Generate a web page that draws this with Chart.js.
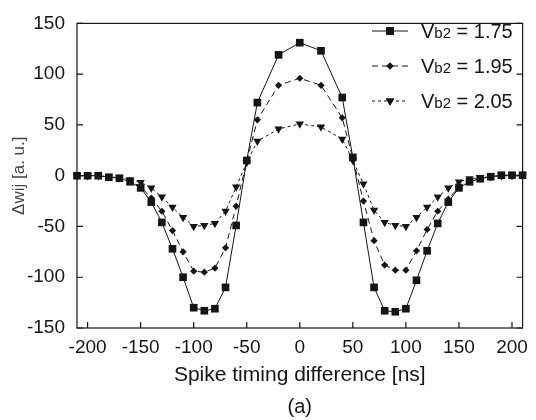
<!DOCTYPE html>
<html>
<head>
<meta charset="utf-8">
<script src="https://cdn.jsdelivr.net/npm/chart.js@4/dist/chart.umd.min.js"></script>
<style>
  html, body { margin: 0; padding: 0; background: #fff; }
  #wrap { width: 536px; height: 420px; }
</style>
</head>
<body>
<div id="wrap"><canvas id="chartStdp"></canvas></div>
<script>
// spike timing difference [ns]
const timing = [-210, -200, -190, -180, -170, -160, -150, -140, -130, -120, -110, -100, -90, -80, -70, -60, -50,
                -40, -20, 0, 20, 40,
                50, 60, 70, 80, 90, 100, 110, 120, 130, 140, 150, 160, 170, 180, 190, 200, 210];

// delta w_ij [a. u.] for each Vb2
const dw175 = [0, 0, 0, -1.5, -2.5, -6, -12, -26, -46, -72, -100, -130, -133, -131, -110, -49, 15,
               72, 119, 131, 123, 77,
               18, -46, -110, -133, -134, -131, -103, -74, -47, -26, -12, -6, -3, -1, 0.5, 0.5, 0.5];
const dw195 = [0, 0, 0, -1.5, -2.5, -5, -11, -22, -35, -54, -75, -94, -95, -91, -71, -30, 14,
               55, 89, 96, 89, 57,
               17, -25, -64, -88, -93, -93, -74, -53, -35, -23, -11, -5, -3, -1, 0, 0, 0];
const dw205 = [0, 0, 0, -1, -2, -4, -6.5, -12, -21, -31, -41, -50, -49, -47, -35, -11, 13,
               34, 46, 51, 48, 36,
               15, -8, -34, -46, -49, -50, -41, -31, -21, -12, -6, -3, -2, -1, 0, 0, 0];

const seriesLabels = ['1.75', '1.95', '2.05'];
const xTicks = [-200, -150, -100, -50, 0, 50, 100, 150, 200];
const yTicks = [-150, -100, -50, 0, 50, 100, 150];

const FONT = "'Liberation Sans', Arial, sans-serif";
const INK = '#151515';

function toPoints(ys) {
    return timing.map((t, i) => ({ x: t, y: ys[i] }));
}

// box around the plot with inward ticks
const framePlugin = {
    id: 'framePlugin',
    beforeDatasetsDraw(chart) {
        const { ctx, chartArea: a, scales } = chart;
        ctx.save();
        ctx.strokeStyle = INK;
        ctx.lineWidth = 1.2;
        ctx.strokeRect(a.left, a.top, a.right - a.left, a.bottom - a.top);
        ctx.beginPath();
        xTicks.forEach(v => {
            const x = scales.x.getPixelForValue(v);
            ctx.moveTo(x, a.bottom);
            ctx.lineTo(x, a.bottom - 6);
        });
        yTicks.forEach(v => {
            const y = scales.y.getPixelForValue(v);
            ctx.moveTo(a.left, y);
            ctx.lineTo(a.left + 6, y);
            ctx.moveTo(a.right, y);
            ctx.lineTo(a.right - 6, y);
        });
        ctx.stroke();
        ctx.restore();
    }
};

// legend: line + marker + "Vb2 = x" with small b2
const legendPlugin = {
    id: 'legendPlugin',
    afterDraw(chart) {
        const ctx = chart.ctx;
        ctx.save();
        chart.data.datasets.forEach((ds, i) => {
            const y = 31 + i * 35;
            ctx.strokeStyle = INK;
            ctx.lineWidth = 1;
            ctx.setLineDash(ds.borderDash || []);
            ctx.beginPath();
            ctx.moveTo(372, y);
            ctx.lineTo(408, y);
            ctx.stroke();
            ctx.setLineDash([]);
            ctx.fillStyle = INK;
            Chart.helpers.drawPoint(ctx, {
                pointStyle: ds.pointStyle,
                radius: ds.pointRadius,
                rotation: ds.pointRotation || 0,
                borderWidth: 0
            }, 390, y);
            ctx.fill();

            ctx.textBaseline = 'alphabetic';
            ctx.textAlign = 'left';
            let x = 421;
            const base = y + 7;
            ctx.font = '20px ' + FONT;
            ctx.fillText('V', x, base);
            x += ctx.measureText('V').width;
            ctx.font = '15px ' + FONT;
            ctx.fillText('b2', x, base);
            x += ctx.measureText('b2').width;
            ctx.font = '20px ' + FONT;
            ctx.fillText(' = ' + seriesLabels[i], x, base);
        });
        ctx.font = '20px ' + FONT;
        ctx.textAlign = 'center';
        ctx.textBaseline = 'middle';
        ctx.fillText('(a)', (chart.chartArea.left + chart.chartArea.right) / 2, 407);
        ctx.restore();
    }
};

document.addEventListener('DOMContentLoaded', () => {
    const ctx = document.getElementById('chartStdp').getContext('2d');
    new Chart(ctx, {
        type: 'line',
        data: {
            datasets: [{
                label: 'Vb2 = ' + seriesLabels[0],
                data: toPoints(dw175),
                borderColor: INK,
                backgroundColor: INK,
                borderWidth: 1,
                pointStyle: 'rect',
                pointRadius: 5.4,
                pointBorderWidth: 0,
                clip: false
            }, {
                label: 'Vb2 = ' + seriesLabels[1],
                data: toPoints(dw195),
                borderColor: INK,
                backgroundColor: INK,
                borderWidth: 1,
                borderDash: [6, 4],
                pointStyle: 'rectRot',
                pointRadius: 3.6,
                pointBorderWidth: 0,
                clip: false
            }, {
                label: 'Vb2 = ' + seriesLabels[2],
                data: toPoints(dw205),
                borderColor: INK,
                backgroundColor: INK,
                borderWidth: 1,
                borderDash: [3, 3],
                pointStyle: 'triangle',
                pointRotation: 180,
                pointRadius: 4.8,
                pointBorderWidth: 0,
                clip: false
            }]
        },
        options: {
            responsive: true,
            maintainAspectRatio: false,
            animation: false,
            layout: { padding: { top: 16, right: 7, left: 0, bottom: 0 } },
            plugins: {
                legend: { display: false },
                tooltip: { enabled: false }
            },
            scales: {
                x: {
                    type: 'linear',
                    min: -210,
                    max: 210,
                    afterBuildTicks: s => { s.ticks = xTicks.map(v => ({ value: v })); },
                    afterFit: s => { s.height = 92; },
                    grid: { display: false, drawTicks: false },
                    border: { display: false },
                    ticks: {
                        color: INK,
                        font: { family: FONT, size: 19 },
                        padding: 8,
                        maxRotation: 0,
                        autoSkip: false
                    },
                    title: {
                        display: true,
                        text: 'Spike timing difference [ns]',
                        color: INK,
                        font: { family: FONT, size: 21 },
                        padding: { top: 0, bottom: 32 }
                    }
                },
                y: {
                    min: -150,
                    max: 150,
                    afterBuildTicks: s => { s.ticks = yTicks.map(v => ({ value: v })); },
                    afterFit: s => { s.width = 77; },
                    grid: { display: false, drawTicks: false },
                    border: { display: false },
                    ticks: {
                        color: INK,
                        font: { family: FONT, size: 19 },
                        padding: 12
                    },
                    title: {
                        display: true,
                        text: '\u0394wij [a. u.]',
                        color: '#444',
                        font: { family: FONT, size: 17 },
                        padding: { top: 9, bottom: 0 }
                    }
                }
            }
        },
        plugins: [framePlugin, legendPlugin]
    });
});
</script>
</body>
</html>
